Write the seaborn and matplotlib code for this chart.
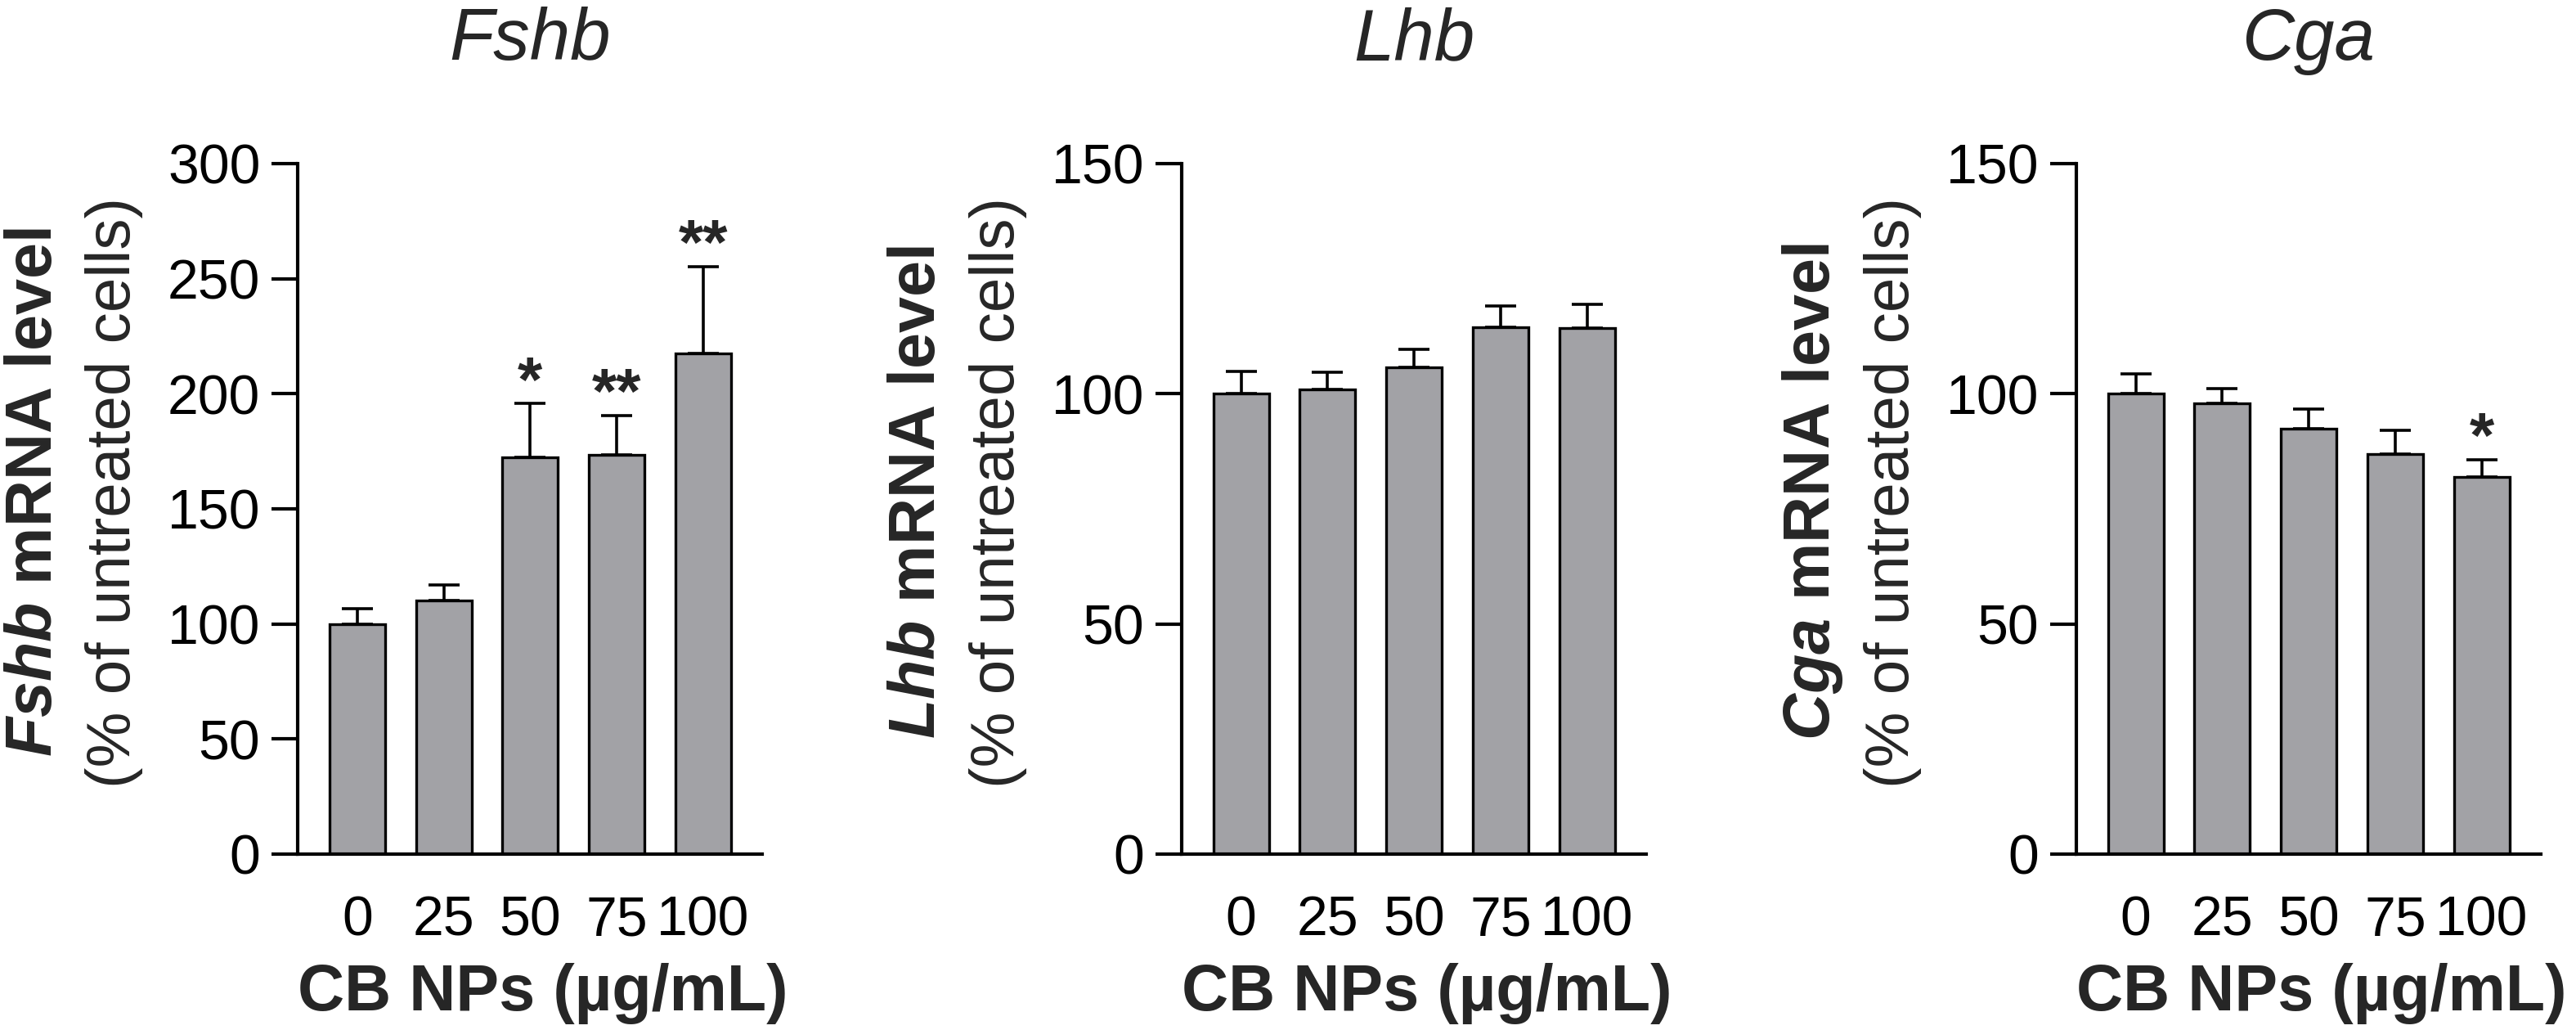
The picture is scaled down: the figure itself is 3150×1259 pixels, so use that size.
import numpy as np
import matplotlib
matplotlib.use("Agg")
import matplotlib.pyplot as plt
import seaborn as sns

# Values (mean and top of SEM bar, % of untreated cells)
doses = ["0", "25", "50", "75", "100"]
genes = ["Fshb", "Lhb", "Cga"]

fshb_mean = [100, 110, 172.5, 173.5, 217.5]
fshb_top = [106.5, 117, 195.7, 190.6, 255.3]
lhb_mean = [100, 101, 105.7, 114.5, 114.2]
lhb_top = [104.8, 104.6, 109.6, 119.1, 119.4]
cga_mean = [100, 98, 92.4, 86.9, 81.9]
cga_top = [104.3, 101.2, 96.7, 92.1, 85.7]

fshb_stars = ["", "", "*", "**", "**"]
lhb_stars = ["", "", "", "", ""]
cga_stars = ["", "", "", "", "*"]

y_max = [300, 150, 150]
y_step = [50, 50, 50]

sns.set_theme(style="ticks")
plt.rcParams["font.family"] = ["Liberation Sans", "DejaVu Sans"]
plt.rcParams["mathtext.fontset"] = "custom"
plt.rcParams["mathtext.it"] = "Liberation Sans:italic:bold"
plt.rcParams["mathtext.rm"] = "Liberation Sans:bold"

bar_color = "#a2a2a6"
lefts = [0.1156, 0.4587, 0.8060]

fig = plt.figure(figsize=(15.75, 6.295), dpi=200)

panels = [
    (fshb_mean, fshb_top, fshb_stars),
    (lhb_mean, lhb_top, lhb_stars),
    (cga_mean, cga_top, cga_stars),
]

for k, (means, tops, stars) in enumerate(panels):
    ax = fig.add_axes([lefts[k], 0.1708, 0.1803, 0.6704])
    sns.barplot(x=doses, y=means, order=doses, color=bar_color, saturation=1,
                edgecolor="black", linewidth=1.2, width=0.643, errorbar=None,
                zorder=2, ax=ax)
    sem = np.array(tops) - np.array(means)
    ax.errorbar(np.arange(len(doses)), means, yerr=[np.zeros(len(doses)), sem],
                fmt="none", ecolor="black", elinewidth=1.3, capsize=7,
                capthick=1.3, zorder=1)
    for i, s in enumerate(stars):
        if s:
            ax.annotate(s, (i, tops[i]), xytext=(0, 1), textcoords="offset points",
                        ha="center", va="baseline", fontsize=28, fontweight="bold")

    ax.set_xlim(-0.687, 4.683)
    ax.set_ylim(0, y_max[k])
    ax.set_yticks(np.arange(0, y_max[k] + 1, y_step[k]))
    ax.tick_params(axis="y", length=11.5, width=1.5, pad=5, labelsize=24.5, colors="black")
    ax.tick_params(axis="x", length=0, pad=18, labelsize=24.5, colors="black")
    sns.despine(ax=ax)
    for side in ["left", "bottom"]:
        ax.spines[side].set_linewidth(1.5)
        ax.spines[side].set_color("black")
    ax.set_xlabel("")
    ax.set_ylabel("")

    g = genes[k]
    ax.text(0.5, 1.150, g, transform=ax.transAxes, ha="center", va="baseline",
            fontsize=32, fontstyle="italic")
    ax.text(-0.531, 0.524, "$\\mathit{" + g + "}$ mRNA level", transform=ax.transAxes,
            rotation=90, rotation_mode="anchor", ha="center", va="baseline",
            fontsize=28.5, fontweight="bold")
    ax.text(-0.3616, 0.524, "(% of untreated cells)", transform=ax.transAxes,
            rotation=90, rotation_mode="anchor", ha="center", va="baseline",
            fontsize=27.5)
    ax.text(0.0, -0.226, "CB NPs (µg/mL)", transform=ax.transAxes, ha="left",
            va="baseline", fontsize=28.5, fontweight="bold")

fig.savefig("out.png", dpi=200, facecolor="white")
